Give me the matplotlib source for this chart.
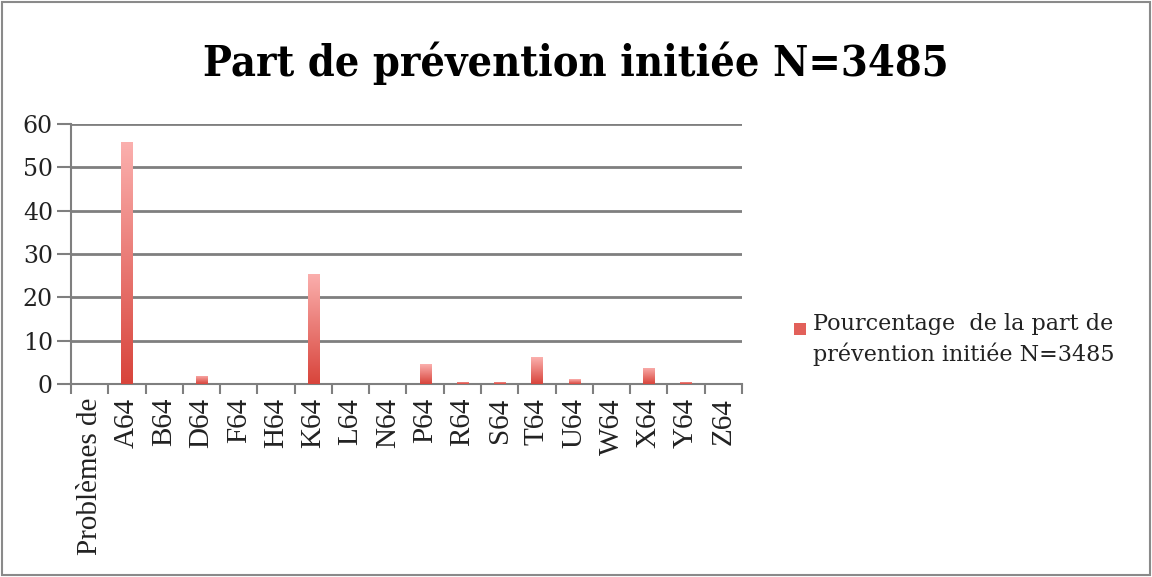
import matplotlib.pyplot as plt
import numpy as np
from matplotlib.colors import LinearSegmentedColormap
from matplotlib.patches import Rectangle

categories = ["Problèmes de", "A64", "B64", "D64", "F64", "H64", "K64", "L64", "N64",
              "P64", "R64", "S64", "T64", "U64", "W64", "X64", "Y64", "Z64"]
values = [0, 55.8, 0, 1.9, 0, 0, 25.4, 0, 0, 4.5, 0.5, 0.5, 6.2, 1.1, 0, 3.8, 0.5, 0]
y_ticks = [0, 10, 20, 30, 40, 50, 60]
title = "Part de prévention initiée N=3485"
legend_label = "Pourcentage  de la part de\nprévention initiée N=3485"

grad = LinearSegmentedColormap.from_list("g", ["#d8443b", "#fbb0ae"])

fig = plt.figure(figsize=(11.52, 5.77), dpi=100)
ax = fig.add_axes([0.0616, 0.3345, 0.5825, 0.4505])

x = np.arange(len(categories))
bars = ax.bar(x, values, width=0.3, color="none", edgecolor="none", zorder=3)
gimg = np.linspace(0, 1, 256).reshape(-1, 1)
for b in bars:
    h = b.get_height()
    if h <= 0:
        continue
    x0 = b.get_x()
    w = b.get_width()
    im = ax.imshow(gimg, cmap=grad, origin="lower", aspect="auto",
                   extent=[x0, x0 + w, 0, h], zorder=3, interpolation="bilinear")
    im.set_clip_path(b)

ax.set_xlim(-0.5, len(categories) - 0.5)
ax.set_ylim(0, 60)
ax.set_yticks(y_ticks)
ax.set_yticklabels([str(t) for t in y_ticks], family="DejaVu Serif", fontsize=17, color="#222222")
ax.yaxis.grid(True, color="#7f7f7f", linewidth=2, zorder=1)
ax.set_axisbelow(True)

ax.set_xticks(x)
ax.set_xticklabels(categories, rotation=90, family="Liberation Serif", fontsize=21, color="#222222")
ax.tick_params(axis="x", length=0, pad=10)
ax.set_xticks(np.arange(-0.5, len(categories) + 0.5, 1), minor=True)
ax.tick_params(axis="x", which="minor", length=7, width=1.5, color="#7f7f7f")
ax.tick_params(axis="y", length=10, width=1.5, color="#7f7f7f", pad=3)

for s in ["top", "right"]:
    ax.spines[s].set_visible(False)
for s in ["left", "bottom"]:
    ax.spines[s].set_color("#7f7f7f")
    ax.spines[s].set_linewidth(1.5)

fig.text(0.5, 0.89, title, ha="center", va="center", fontsize=31, fontweight="bold",
         family="DejaVu Serif", fontstretch="condensed")

# legend drawn by hand so the marker sits on the first line, like the original
fig.patches.append(Rectangle((794 / 1152, 1 - 335 / 577), 12 / 1152, 12 / 577,
                             transform=fig.transFigure, facecolor="#e2605a", edgecolor="none"))
fig.text(813 / 1152, 1 - 313 / 577, legend_label, ha="left", va="top",
         family="DejaVu Serif", fontsize=16, linespacing=1.4, color="#222222")

fig.patches.append(Rectangle((0.002, 0.003), 0.996, 0.994, transform=fig.transFigure,
                             fill=False, edgecolor="#8a8a8a", linewidth=1.5))

fig.savefig("out.png", dpi=100)
